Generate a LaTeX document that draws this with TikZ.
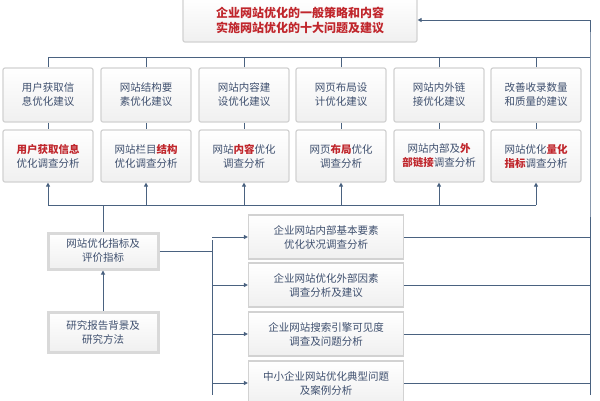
\documentclass[tikz,border=0pt]{standalone}
\usepackage{fontspec}
\setmainfont{Noto Sans CJK SC}
\usetikzlibrary{arrows.meta}
\definecolor{ln}{HTML}{4A6280}
\definecolor{tx}{HTML}{3E4F6E}
\definecolor{rd}{HTML}{C0262C}
\tikzset{
 bx/.style={draw=gray!35,line width=1.2pt,rounded corners=2pt,top color=white,bottom color=gray!12,text=tx,align=center,font=\fontsize{10.5}{14}\selectfont,inner sep=0pt},
 ln/.style={draw=ln,line width=1pt},
 ar/.style={ln,-{Triangle[length=4pt,width=4pt]}}
}
\newcommand{\R}[1]{\textcolor{rd}{\textbf{#1}}}
\begin{document}
\begin{tikzpicture}[x=1pt,y=-1pt]
\useasboundingbox (0,0) rectangle (600,400);
\fill[white] (0,0) rectangle (600,400);
\node[bx,minimum width=234,minimum height=44,text=rd,font=\bfseries\fontsize{12}{15}\selectfont] (top) at (300,20) {企业网站优化的一般策略和内容\\实施网站优化的十大问题及建议};
\foreach \n/\x/\a/\b in {1/48/{用户获取信\\息优化建议}/{\R{用户获取信息}\\优化调查分析},
 2/146/{网站结构要\\素优化建议}/{网站栏目\R{结构}\\优化调查分析},
 3/244/{网站内容建\\设优化建议}/{网站\R{内容}优化\\调查分析},
 4/341/{网页布局设\\计优化建议}/{网页\R{布局}优化\\调查分析},
 5/439/{网站内外链\\接优化建议}/{网站内部及\R{外}\\\R{部链接}调查分析},
 6/536/{改善收录数量\\和质量的建议}/{网站优化\R{量化}\\\R{指标}调查分析}}{
 \node[bx,minimum width=90,minimum height=54] (a\n) at (\x,95) {\a};
 \node[bx,minimum width=90,minimum height=52] (b\n) at (\x,156) {\b};
 \draw[ln] (a\n.south) -- (b\n.north);
 \draw[ln] (a\n.north) -- (\x,57);
 \draw[ar] (\x,205) -- (b\n.south);
}
\coordinate (tr) at (590,57);
\draw[ln] (48,57) -- (tr);
\draw[ar] (590,395) -- (590,43) |- (top.east);
\draw[ln] (48,205) -- (536,205);
\node[bx,minimum width=110,minimum height=36,draw=gray!30,line width=3pt,rounded corners=0pt] (ev) at (103,251) {网站优化指标及\\评价指标};
\node[bx,minimum width=110,minimum height=40,draw=gray!30,line width=3pt,rounded corners=0pt] (rs) at (103,332) {研究报告背景及\\研究方法};
\draw[ln] (103,205) -- (ev.north);
\draw[ar] (rs.north) -- (ev.south);
\draw[ln] (ev.east) -- (212,251);
\draw[ln] (212,240) -- (212,395);
\foreach \n/\y/\t in {1/237/{企业网站内部基本要素\\优化状况调查分析},2/285/{企业网站优化外部因素\\调查分析及建议},3/334/{企业网站搜索引擎可见度\\调查及问题分析},4/383/{中小企业网站优化典型问题\\及案例分析}}{
 \node[bx,minimum width=155,minimum height=44,rounded corners=0pt] (c\n) at (326,\y) {\t};
 \draw[ar] (212,\y) -- (c\n.west);
 \draw[ln] (c\n.east) -- (590,\y);
}
\end{tikzpicture}
\end{document}
